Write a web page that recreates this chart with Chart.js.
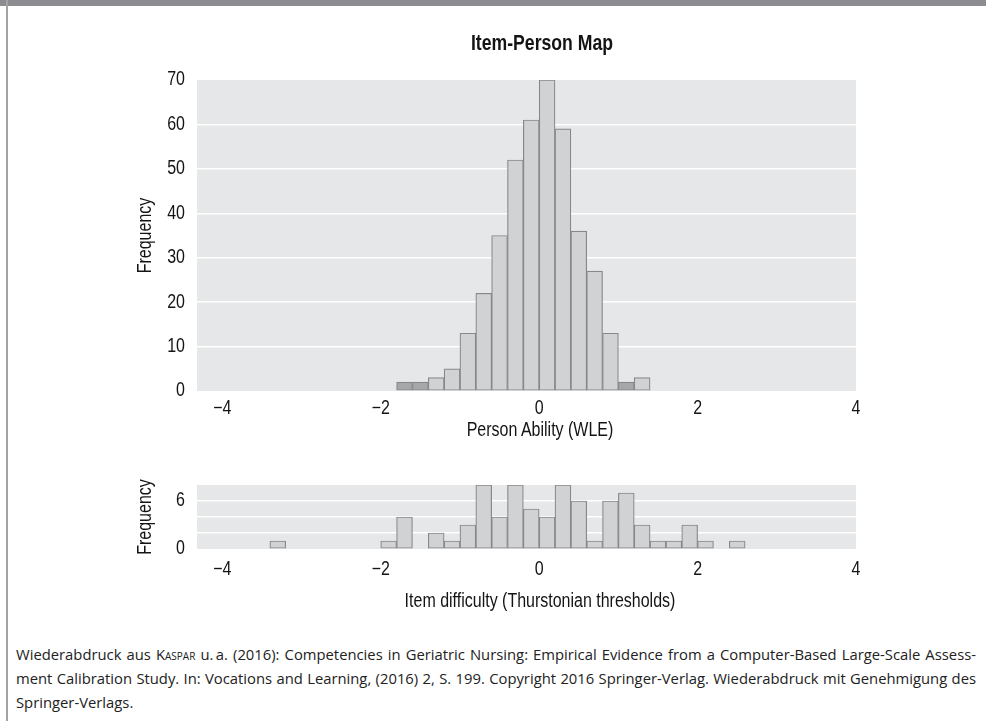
<!DOCTYPE html>
<html>
<head>
<meta charset="utf-8">
<script src="https://cdn.jsdelivr.net/npm/chart.js@4.4.1/dist/chart.umd.min.js"></script>
<style>
  body { margin: 0; background: #fff; }
  #page { position: relative; width: 986px; height: 721px; overflow: hidden; color: #141414;
          font-family: "Liberation Sans", sans-serif; }
  .band { position: absolute; left: 0; top: 0; width: 986px; height: 6px; background: #8d8d91; }
  .rule { position: absolute; left: 6px; top: 0; width: 1.5px; height: 721px; background: #a3a3a3; }
  .wrap { position: absolute; left: 0; width: 986px; }
  /* Arial-Narrow look: Liberation Sans squeezed to 82 % */
  .lbl { position: absolute; transform: translateX(-50%) scaleX(0.82); white-space: nowrap; line-height: 1; }
  .caption { position: absolute; left: 16px; top: 642px; width: 960px; font-family: "Open Sans", sans-serif;
             font-size: 14.8px; line-height: 24px; color: #222; }
  .caption div { white-space: nowrap; }
  .caption .just { text-align: justify; text-align-last: justify; }
  .sc { font-variant: small-caps; }
</style>
</head>
<body>
<div id="page">
  <div class="wrap" style="top:0;height:460px"><canvas id="personChart"></canvas></div>
  <div class="wrap" style="top:460px;height:170px"><canvas id="itemChart"></canvas></div>
  <div class="band"></div>
  <div class="rule"></div>
  <div class="lbl" style="left:542px;top:33px;font-size:21.5px;font-weight:bold">Item-Person Map</div>
  <div class="lbl" style="left:540px;top:420px;font-size:19.5px">Person Ability (WLE)</div>
  <div class="lbl" style="left:540px;top:591px;font-size:19.5px">Item difficulty (Thurstonian thresholds)</div>
  <div class="caption">
    <div class="just">Wiederabdruck aus <span class="sc">Kaspar</span> u.&#8201;a. (2016): Competencies in Geriatric Nursing: Empirical Evidence from a Computer-Based Large-Scale Assess-</div>
    <div class="just">ment Calibration Study. In: Vocations and Learning, (2016) 2, S. 199. Copyright 2016 Springer-Verlag. Wiederabdruck mit Genehmigung des</div>
    <div>Springer-Verlags.</div>
  </div>
</div>
<script>
// histogram bins (lower edge of each 0.2 wide bin) and counts
const binWidth = 0.2;
const personBinStart = [-1.8, -1.6, -1.4, -1.2, -1.0, -0.8, -0.6, -0.4, -0.2, 0.0, 0.2, 0.4, 0.6, 0.8, 1.0, 1.2];
const personCounts   = [2, 2, 3, 5, 13, 22, 35, 52, 61, 70, 59, 36, 27, 13, 2, 3];
const personMarkedBins = [-1.8, -1.6, 1.0];   // bins drawn in the darker shade

const itemBinStart = [-3.4, -2.0, -1.8, -1.4, -1.2, -1.0, -0.8, -0.6, -0.4, -0.2, 0.0, 0.2, 0.4, 0.6, 0.8, 1.0, 1.2, 1.4, 1.6, 1.8, 2.0, 2.4];
const itemCounts   = [1, 1, 4, 2, 1, 3, 8, 4, 8, 5, 4, 8, 6, 1, 6, 7, 3, 1, 1, 3, 1, 1];

const xTicks = [-4, -2, 0, 2, 4];
const xRange = [-4.32, 4];
const personYMax = 70, personYStep = 10;
const itemYMax = 8, itemYStep = 2;
const itemYTickLabels = [0, 6];

const FONT = '"Liberation Sans", sans-serif';
const TEXT = '#141414';
const BAR = '#d1d2d4', BAR_DARK = '#a6a7a9', BAR_EDGE = '#88888a';

const plotBackground = {
  id: 'plotBackground',
  beforeDraw(chart) {
    const { ctx, chartArea: a } = chart;
    ctx.save();
    ctx.fillStyle = '#e6e7e9';
    ctx.fillRect(a.left, a.top, a.width, a.height);
    ctx.restore();
  }
};

// squeeze canvas text so it looks like a narrow face (none is installed)
const narrowText = {
  id: 'narrowText',
  beforeInit(chart) {
    const ctx = chart.ctx;
    const fill = ctx.fillText;
    ctx.fillText = function (text, x, y, maxWidth) {
      let w = this.measureText(text).width * 0.82;
      if (maxWidth !== undefined) w = Math.min(w, maxWidth);
      return fill.call(this, text, x, y, w);
    };
  }
};

function toPoints(starts, counts) {
  return starts.map((s, i) => ({ x: Math.round((s + binWidth / 2) * 1000) / 1000, y: counts[i] }));
}

function makeChart(canvas, cfg) {
  return new Chart(canvas, {
    type: 'bar',
    data: {
      datasets: [{
        data: toPoints(cfg.starts, cfg.counts),
        backgroundColor: cfg.starts.map(s => (cfg.marked || []).includes(s) ? BAR_DARK : BAR),
        borderColor: BAR_EDGE,
        borderWidth: 1.2,
        borderSkipped: false,
        barPercentage: 1,
        categoryPercentage: 1
      }]
    },
    options: {
      responsive: true,
      maintainAspectRatio: false,
      animation: false,
      layout: { padding: cfg.padding },
      plugins: { legend: { display: false }, tooltip: { enabled: false }, title: { display: false } },
      scales: {
        x: {
          type: 'linear',
          offset: false,
          min: xRange[0],
          max: xRange[1],
          afterBuildTicks: s => { s.ticks = xTicks.map(v => ({ value: v })); },
          afterFit: s => { s.height = cfg.xHeight; },
          grid: { display: false, drawTicks: false, offset: false },
          border: { display: false },
          ticks: {
            autoSkip: false, maxRotation: 0, padding: cfg.xTickPad, color: TEXT,
            font: { family: FONT, size: 19.5 },
            callback: v => String(v).replace('-', '\u2212')
          }
        },
        y: {
          min: 0,
          max: cfg.yMax,
          afterFit: s => { s.width = 75; },
          grid: {
            drawTicks: false, lineWidth: 1.5,
            color: c => (c.tick.value > 0 && c.tick.value < cfg.yMax) ? '#ffffff' : 'rgba(0,0,0,0)'
          },
          border: { display: false },
          ticks: {
            autoSkip: false, stepSize: cfg.yStep, padding: 12, color: TEXT,
            font: { family: FONT, size: 19.5 },
            callback: cfg.yLabel
          },
          title: {
            display: true, text: 'Frequency', color: TEXT,
            font: { family: FONT, size: 19.5 }, padding: { top: 12, bottom: 0 }
          }
        }
      }
    },
    plugins: [narrowText, plotBackground]
  });
}

makeChart(document.getElementById('personChart'), {
  starts: personBinStart, counts: personCounts, marked: personMarkedBins,
  yMax: personYMax, yStep: personYStep,
  yLabel: v => v,
  padding: { left: 122, right: 130, top: 80, bottom: 9 },
  xHeight: 60, xTickPad: 6
});

makeChart(document.getElementById('itemChart'), {
  starts: itemBinStart, counts: itemCounts,
  yMax: itemYMax, yStep: itemYStep,
  yLabel: v => itemYTickLabels.includes(v) ? v : '',
  padding: { left: 122, right: 130, top: 25, bottom: 16 },
  xHeight: 65, xTickPad: 9
});
</script>
</body>
</html>
